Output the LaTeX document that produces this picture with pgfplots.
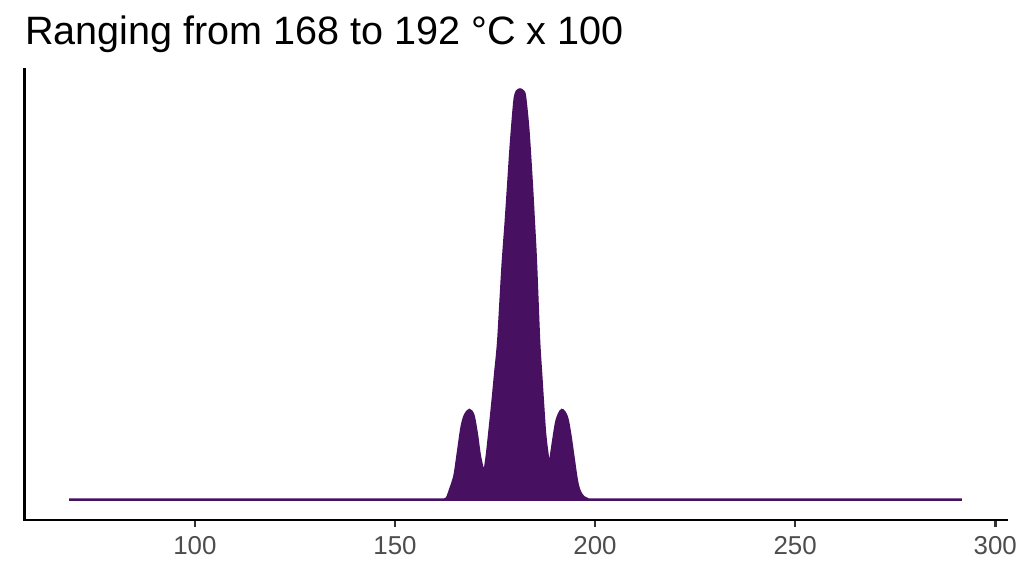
\documentclass[border=0pt]{standalone}
\usepackage{pgfplots}
\pgfplotsset{compat=1.18}
\usepackage{fontspec}
\setmainfont{Liberation Sans}
\definecolor{dens}{HTML}{481060}
\definecolor{ticktext}{HTML}{4D4D4D}

\begin{document}
\begin{tikzpicture}
\useasboundingbox (0,0) rectangle (348.16pt,195.84pt);
\begin{axis}[
    at={(8.364pt,19.04pt)},
    anchor=south west,
    scale only axis,
    width=333.88pt,
    height=153.34pt,
    xmin=57.45, xmax=302.85,
    ymin=-20.5, ymax=430.7,
    axis x line*=bottom,
    axis y line*=left,
    axis line style={black, line width=0.9pt, line cap=rect},
    xtick={100,150,200,250,300},
    ytick=\empty,
    tick align=outside,
    major tick length=2.4pt,
    tick style={color=black!80, line width=0.9pt},
    xticklabel style={font=\fontsize{8.8}{10}\selectfont, text=ticktext, inner sep=0pt, yshift=-3pt},
    /pgf/number format/assume math mode=true,
    clip=false,
]
% density outline, heights in arbitrary units (baseline = 0)
\addplot[draw=dens, fill=dens, line width=0.85pt, smooth, tension=0.5] coordinates {
    (68.6,0) (160,0) (162.4,0.1) (162.93,1) (163.33,4.5) (163.75,9.5) (164.4,17)
    (165.0,26.2) (165.83,49.5)
    (166.68,72.8) (167.5,84.5) (168.58,89.5) (169.58,84.5) (170.43,66.2)
    (171.25,42.8) (172.25,27.8) (172.93,42.8) (173.75,72.8) (174.43,99.5)
    (175.1,128) (175.83,159.5) (176.9,233.5) (177.7,278) (178.33,316.2) (178.93,352.8) (179.58,386.2)
    (180.0,402.8) (180.5,408.5) (181.25,410.2) (182.0,408.5) (182.5,402.8)
    (183.33,369.5) (184.18,316.2) (184.7,278) (185.2,239.5) (186.0,159.5) (186.5,127) (186.93,99.5)
    (187.5,66.2) (188.08,46.2) (188.58,34.5) (189.58,59.5) (190.43,79.5)
    (191.68,89.5) (192.93,82.8) (193.75,66.2) (194.58,42.8) (195.43,19.5)
    (196.0,10) (196.68,4.5) (197.3,2) (197.93,0.8) (199.0,0) (291.7,0)
} \closedcycle;
\end{axis}
\node[anchor=base west, inner sep=0pt, font=\fontsize{13.45}{15}\selectfont] at (8.364pt,180.54pt) {Ranging from 168 to 192 °C x 100};
\end{tikzpicture}
\end{document}
